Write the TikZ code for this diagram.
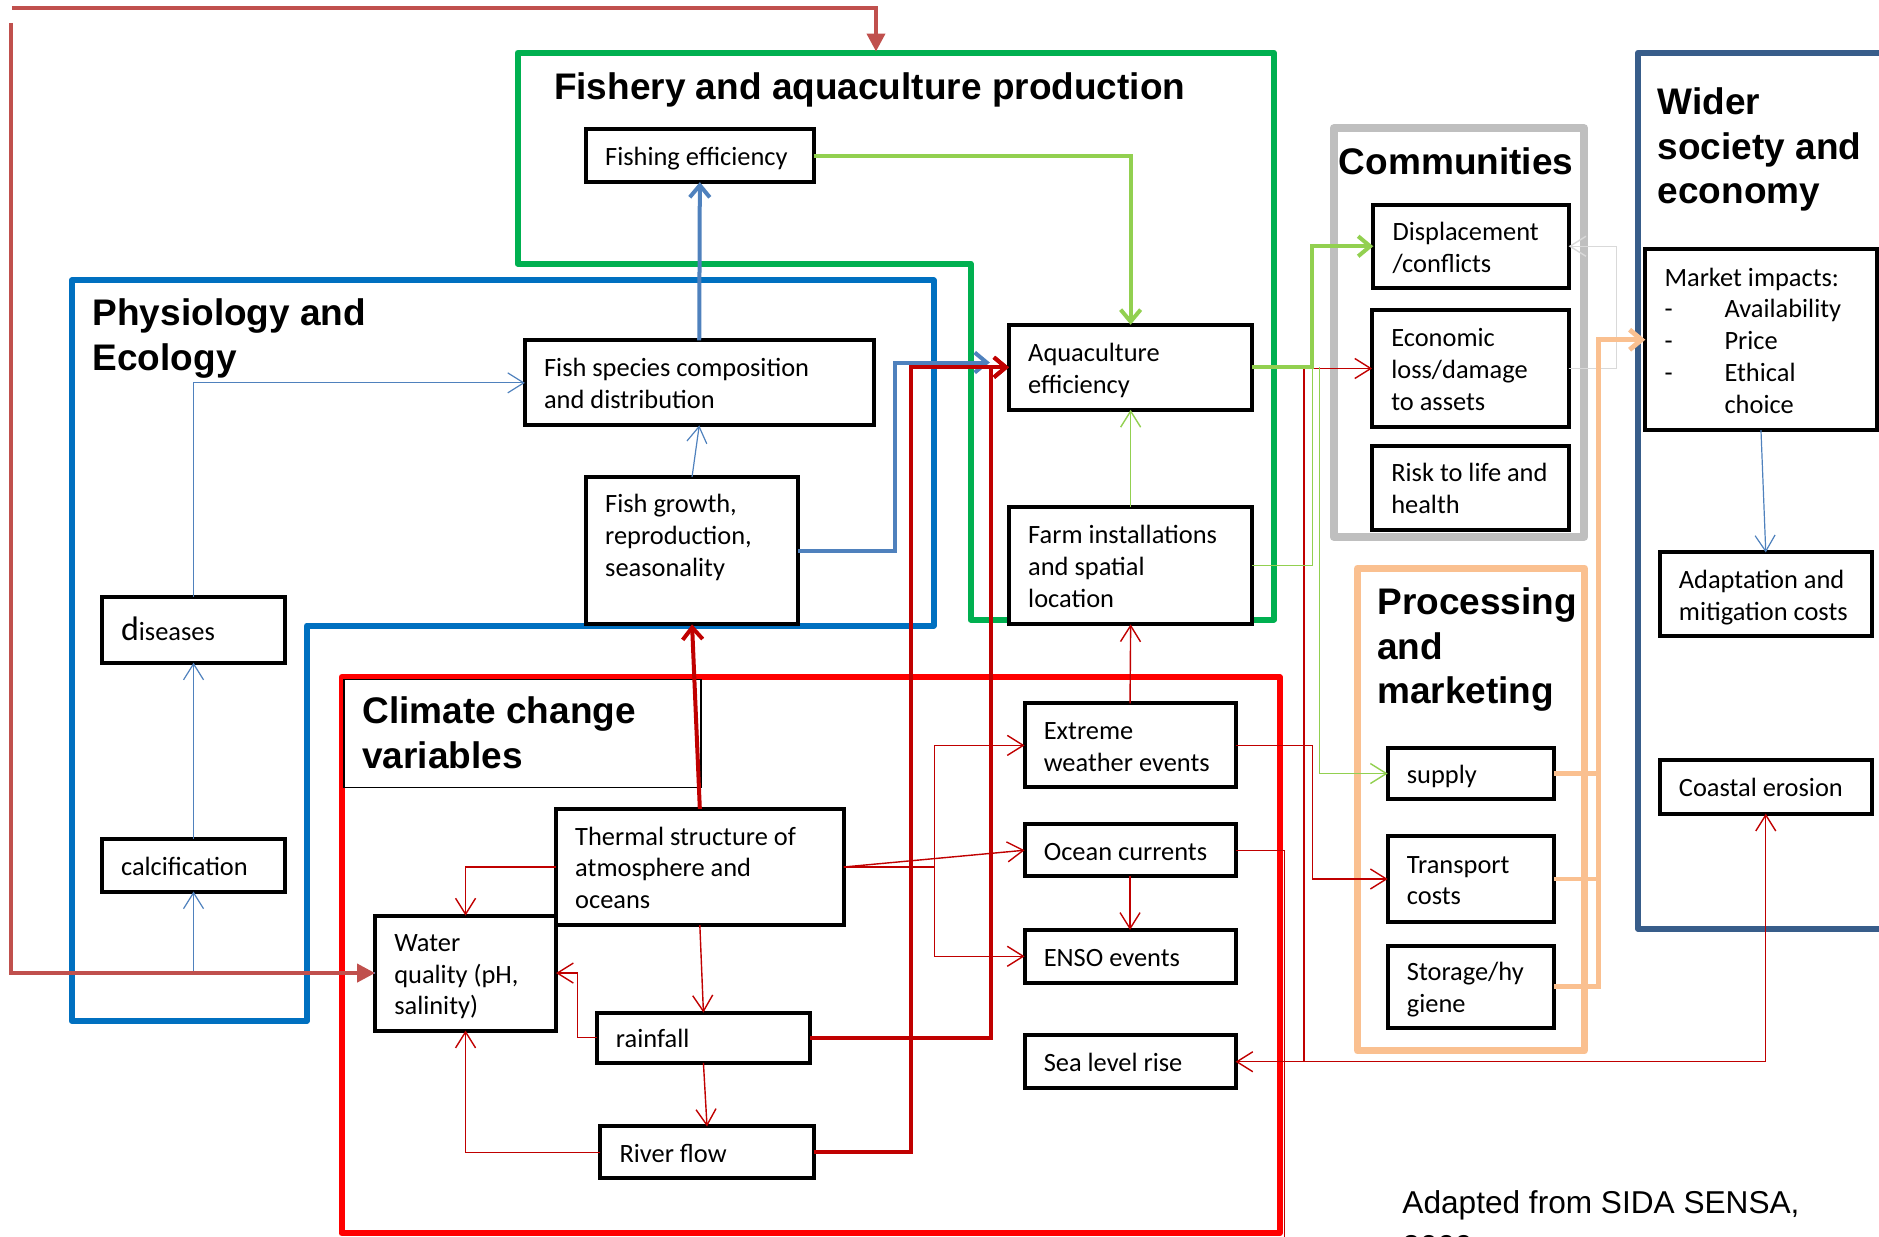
\documentclass[tikz,border=0pt]{standalone}
\usepackage{fontspec}
\usepackage{tikz}
\usetikzlibrary{arrows.meta,calc}
\newfontfamily\nodefont{Carlito}
\newfontfamily\titlefont{Liberation Sans}

\definecolor{salmon}{HTML}{C0504D}
\definecolor{fishgreen}{HTML}{00B050}
\definecolor{lightgreen}{HTML}{92D050}
\definecolor{ecoblue}{HTML}{0070C0}
\definecolor{steelblue}{HTML}{4F81BD}
\definecolor{climred}{HTML}{FF0000}
\definecolor{darkred}{HTML}{C00000}
\definecolor{commgray}{HTML}{BFBFBF}
\definecolor{palegray}{HTML}{D9D9D9}
\definecolor{procorange}{HTML}{FAC090}
\definecolor{societyblue}{HTML}{385D8A}

% box from its corners: name, x1, y1, x2, y2, text
\newcommand\impactbox[6]{%
  \pgfmathsetmacro\bw{(#4-#2)*0.599}%
  \pgfmathsetmacro\bh{(#5-#3)*0.599}%
  \pgfmathsetmacro\tw{(#4-#2)*0.599-19.2}%
  \node[impact, minimum width=\bw pt, minimum height=\bh pt]
    (#1) at (#2,#3) {\raisebox{-1.8pt}[\height][\depth]{%
      \makebox[\tw pt][l]{\begin{tabular}{@{}l@{}}#6\end{tabular}}}};}

\begin{document}
\begin{tikzpicture}[x=0.599pt, y=-0.599pt,
  impact/.style={draw, line width=2pt, fill=white, anchor=north west,
    inner xsep=9.6pt, inner ysep=0pt, outer sep=0pt,
    font=\nodefont\fontsize{13.2}{15.9}\selectfont},
  grouptitle/.style={anchor=base west, align=left, inner sep=0pt,
    font=\titlefont\bfseries\fontsize{18.5}{22.2}\selectfont},
  frame/.style={line width=3pt, line join=round},
  barb/.tip={Straight Barb[length=8pt,width=10pt]},
  thinred/.style={darkred, line width=0.7pt, -barb},
  thickred/.style={darkred, line width=2pt, -{Straight Barb[length=6pt,width=10pt]}},
  thinblue/.style={steelblue, line width=0.6pt, -barb},
  thickblue/.style={steelblue, line width=2pt, -{Straight Barb[length=6pt,width=10pt]}},
  thingreen/.style={lightgreen, line width=0.7pt, -barb},
  thickgreen/.style={lightgreen, line width=2pt, -{Straight Barb[length=6pt,width=10pt]}},
  thingray/.style={palegray, line width=0.7pt, -barb},
  thickorange/.style={procorange, line width=2.4pt, -{Straight Barb[length=6pt,width=10pt]}},
  salmonarrow/.style={salmon, line width=2pt, -{Triangle[length=9pt,width=9pt]}}
]
\useasboundingbox (0,0) rectangle (1568,1032);
\clip (0,0) rectangle (1568,1032);

% group frames
\draw[frame, fishgreen] (432,44) -- (1063,44) -- (1063,517) -- (810,517)
  -- (810,220) -- (432,220) -- cycle;
\draw[frame, ecoblue] (60,234) -- (779,234) -- (779,522) -- (256,522)
  -- (256,852) -- (60,852) -- cycle;
\draw[frame, climred] (285,565) rectangle (1068,1029);
\draw[frame, commgray, line width=4pt] (1113,107) rectangle (1322,448);
\draw[frame, procorange, line width=3.5pt] (1133,474) rectangle (1322,877);
\draw[frame, societyblue] (1600,44) -- (1367,44) -- (1367,775) -- (1600,775);
\draw[line width=0.8pt, fill=white] (287,567) rectangle (585,657);

% titles (multi-line ones sit on their last baseline)
\node[grouptitle] (fishtitle) at (462,83) {Fishery and aquaculture production};
\node[grouptitle] (ecotitle) at (77,309) {Physiology and\\Ecology};
\node[grouptitle] (commtitle) at (1117,146) {Communities};
\node[grouptitle] (soctitle) at (1383,170) {Wider\\society and\\economy};
\node[grouptitle] (proctitle) at (1149,587) {Processing\\and\\marketing};
\node[grouptitle] (climtitle) at (302,641) {Climate change\\variables};
\node[anchor=base west, align=left, inner sep=0pt,
  font=\titlefont\fontsize{15.8}{22}\selectfont] (source) at (1170,1049)
  {Adapted from SIDA SENSA,\\2009};

% fishery and ecology
\impactbox{fishing}{489}{108}{679}{152}{Fishing efficiency}
\impactbox{species}{438}{284}{729}{355}{Fish species composition\\and distribution}
\impactbox{growth}{489}{398}{666}{521}{Fish growth,\\reproduction,\\seasonality\\\mbox{}}
\impactbox{diseases}{85}{498}{238}{553}{{\fontsize{17}{17}\selectfont d}iseases}
\impactbox{calc}{85}{700}{238}{744}{calcification}
\impactbox{aqua}{842}{271}{1045}{342}{Aquaculture\\efficiency}
\impactbox{farm}{842}{423}{1045}{521}{Farm installations\\and spatial\\location}

% climate
\impactbox{extreme}{855}{587}{1031}{657}{Extreme\\weather events}
\impactbox{ocean}{855}{688}{1031}{731}{Ocean currents}
\impactbox{enso}{855}{776}{1031}{820}{ENSO events}
\impactbox{slr}{855}{864}{1031}{908}{Sea level rise}
\impactbox{thermal}{464}{675}{704}{772}{Thermal structure of\\atmosphere and\\oceans}
\impactbox{water}{313}{764}{464}{860}{Water\\quality (pH,\\salinity)}
\impactbox{rain}{498}{845}{676}{887}{rainfall}
\impactbox{river}{501}{940}{679}{983}{River flow}

% communities, processing, society
\impactbox{displ}{1146}{171}{1309}{240}{Displacement\\/conflicts}
\impactbox{econ}{1145}{259}{1309}{356}{Economic\\loss/damage\\to assets}
\impactbox{risk}{1145}{372}{1309}{442}{Risk to life and\\health}
\impactbox{supply}{1158}{624}{1297}{667}{supply}
\impactbox{transport}{1158}{698}{1297}{769}{Transport\\costs}
\impactbox{storage}{1158}{789}{1297}{858}{Storage/hy\\giene}
\impactbox{market}{1373}{208}{1566}{359}{Market impacts:\\\makebox[30pt][l]{-}Availability\\\makebox[30pt][l]{-}Price\\\makebox[30pt][l]{-}Ethical\\\hspace*{30pt}choice}
\impactbox{adapt}{1385}{461}{1562}{531}{Adaptation and\\mitigation costs}
\impactbox{coast}{1385}{634}{1562}{679}{Coastal erosion}

% blue links
\draw[thickblue] (species.north) -- (fishing.south);
\draw[thickblue] (growth.east) -- ++(81,0) |- ($(aqua.west)+(-16,-4)$);
\draw[thinblue] (diseases.north) |- (species.west);
\draw[thinblue] (calc.north) -- (diseases.south);
\draw[thinblue] (water.west) -| (calc.south);
\draw[thinblue] (growth.north) -- (species.south);
\draw[thinblue] (market.south) -- (adapt.north);

% red links
\draw[thickred] (thermal.north) -- (growth.south);
\draw[thickred] (rain.east) -| ($(aqua.west)+(-15,0)$) -- (aqua.west);
\draw[thickred] (river.east) -- ++(81,0) |- (aqua.west);
\draw[thinred] (thermal.west) -| (water.north);
\draw[thinred] (thermal.south) -- (rain.north);
\draw[thinred] (rain.south) -- (river.north);
\draw[thinred] (rain.west) -- ++(-16,0) |- (water.east);
\draw[thinred] (river.west) -| (water.south);
\draw[thinred] (thermal.east) -- (ocean.west);
\draw[thinred, -] (thermal.east) -- ++(76,0) coordinate (bus);
\draw[thinred] (bus) |- (extreme.west);
\draw[thinred] (bus) |- (enso.west);
\draw[thinred] (ocean.south) -- (enso.north);
\draw[thinred] (extreme.north) -- (farm.south);
\draw[thinred] (extreme.east) -- ++(64,0) |- (transport.west);
\draw[thinred, -] (ocean.east) -- ++(41,0) -- ++(0,330);
\draw[thinred, barb-barb] (slr.east) -| (coast.south);
\draw[thinred] ($(slr.east)+(57,0)$) |- (econ.west);

% green links
\draw[thickgreen] (fishing.east) -| (aqua.north);
\draw[thickgreen] (aqua.east) -- ++(50,0) |- (displ.west);
\draw[thingreen] (farm.north) -- (aqua.south);
\draw[thingreen, -] (farm.east) -| ($(aqua.east)+(50,0)$);
\draw[thingreen] ($(aqua.east)+(56,0)$) |- (supply.west);

% gray and orange links
\draw[thingray] (econ.east) -- ++(40,0) |- (displ.east);
\draw[thickorange, -] (supply.east) -- ++(37,0);
\draw[thickorange, -] (transport.east) -- ++(37,0);
\draw[thickorange] (storage.east) -- ++(37,0) |- (market.west);

% feedback into fishery and water quality
\coordinate (topstart) at (10,7);
\coordinate (fishtop) at (731,43);
\coordinate (leftstart) at (9,19);
\draw[salmonarrow] (topstart) -| (fishtop);
\draw[salmonarrow] (leftstart) |- (water.west);

\end{tikzpicture}
\end{document}
